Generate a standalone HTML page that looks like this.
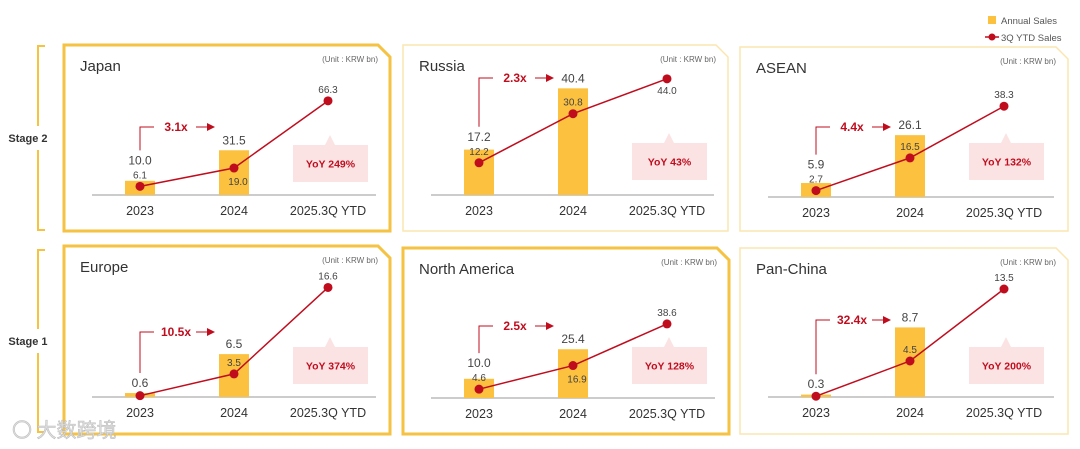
<!DOCTYPE html>
<html><head><meta charset="utf-8"><style>
html,body{margin:0;padding:0;background:#fff;}
svg{display:block;font-family:"Liberation Sans","Noto Sans CJK SC",sans-serif;}
</style></head><body>
<svg id="chart" width="1080" height="449" viewBox="0 0 1080 449"></svg>
<script>
const regions=["Japan","Russia","ASEAN","Europe","North America","Pan-China"];
const categories=["2023","2024","2025.3Q YTD"];
const annual2023=[10.0,17.2,5.9,0.6,10.0,0.3];
const annual2024=[31.5,40.4,26.1,6.5,25.4,8.7];
const ytd2023=[6.1,12.2,2.7,0.2,4.6,0.1];
const ytd2024=[19.0,30.8,16.5,3.5,16.9,4.5];
const ytd2025=[66.3,44.0,38.3,16.6,38.6,13.5];
const multipliers=["3.1x","2.3x","4.4x","10.5x","2.5x","32.4x"];
const yoyLabels=["YoY 249%","YoY 43%","YoY 132%","YoY 374%","YoY 128%","YoY 200%"];
const show2023Line=[true,true,true,false,true,false];
const label2024Below=[true,false,false,false,true,false];
const label2025Below=[false,true,false,false,false,false];

const geo=[
 {x:64,y:45,w:326,h:186,thick:true,base:195,s:1.42,my:127,by:145},
 {x:403,y:45,w:325,h:186,thick:false,base:195,s:2.64,my:78,by:143},
 {x:740,y:47,w:328,h:184,thick:false,base:197,s:2.37,my:127,by:143},
 {x:64,y:246,w:326,h:188,thick:true,base:397,s:6.6,my:332,by:347},
 {x:403,y:248,w:326,h:186,thick:true,base:398,s:1.92,my:326,by:347},
 {x:740,y:248,w:328,h:186,thick:false,base:397,s:8.0,my:320,by:347}
];
const svg=document.getElementById('chart');
const NS="http://www.w3.org/2000/svg";
function mk(tag,attrs,parent,text){const e=document.createElementNS(NS,tag);for(const k in attrs)e.setAttribute(k,attrs[k]);if(text!==undefined)e.textContent=text;(parent||svg).appendChild(e);return e;}

// legend
const lg=mk('g',{});


const l1=mk('rect',{x:988,y:16,width:8,height:8,fill:'#fcc13f'},lg);


mk('text',{x:1001,y:24,'font-size':9.5,fill:'#555'},lg,'Annual Sales');
mk('line',{x1:985,y1:37,x2:999,y2:37,stroke:'#c00d1e','stroke-width':1.5},lg);
const l2=mk('circle',{cx:992,cy:37,r:3.5,fill:'#c00d1e'},lg);


mk('text',{x:1001,y:41,'font-size':9.5,fill:'#555'},lg,'3Q YTD Sales');

// stage brackets
[[46,230,'Stage 2'],[250,432,'Stage 1']].forEach(b=>{
 const g=mk('g',{});
 
 
 const mid=(b[0]+b[1])/2;
 mk('path',{d:`M45 ${b[0]} H38 V${mid-12} M38 ${mid+12} V${b[1]} H45`,fill:'none',stroke:'#f5c242','stroke-width':2},g);
 mk('text',{x:28,y:mid+4,'font-size':11,'font-weight':'bold','text-anchor':'middle',fill:'#333'},g,b[2]);
});

regions.forEach((name,i)=>{
 const G=geo[i];
 const g=mk('g',{});
 
 
 const c=12;
 mk('path',{d:`M${G.x} ${G.y} H${G.x+G.w-c} L${G.x+G.w} ${G.y+c} V${G.y+G.h} H${G.x} Z`,fill:'#fff',stroke:G.thick?'#f5c242':'#fbe6b0','stroke-width':G.thick?3:1.5},g);
 const t=mk('text',{x:G.x+16,y:G.y+26,'font-size':15,fill:'#333'},g,name);
 
 
 mk('text',{x:G.x+G.w-12,y:G.y+17,'font-size':8,fill:'#666','text-anchor':'end'},g,'(Unit : KRW bn)');
 const xs=[G.x+76,G.x+170,G.x+264];
 const yv=v=>G.base-v*G.s;
 mk('line',{x1:G.x+28,y1:G.base,x2:G.x+G.w-14,y2:G.base,stroke:'#999','stroke-width':1},g);
 categories.forEach((cat,k)=>{mk('text',{x:xs[k],y:G.base+20,'font-size':12.5,'text-anchor':'middle',fill:'#333'},g,cat);});
 const ann=[annual2023[i],annual2024[i]];
 const ytd=[ytd2023[i],ytd2024[i],ytd2025[i]];
 ann.forEach((v,k)=>{
  const r=mk('rect',{x:xs[k]-15,y:yv(v),width:30,height:G.base-yv(v),fill:'#fcc13f'},g);
  
  
 });
 const pts=ytd.map((v,k)=>xs[k]+','+yv(v)).join(' ');
 const pl=mk('polyline',{points:pts,fill:'none',stroke:'#c00d1e','stroke-width':1.5},g);
 
 
 ytd.forEach((v,k)=>{
  const d=mk('circle',{cx:xs[k],cy:yv(v),r:4.5,fill:'#c00d1e'},g);
  
  
 });
 let bl23=yv(ann[0])-6;
 if(show2023Line[i]){
  mk('text',{x:xs[0],y:yv(ytd[0])-8,'font-size':10,'text-anchor':'middle',fill:'#444'},g,ytd[0].toFixed(1));
  bl23=Math.min(bl23,yv(ytd[0])-22);
 } else bl23=Math.min(bl23,yv(ytd[0])-8);
 mk('text',{x:xs[0],y:bl23,'font-size':12,'text-anchor':'middle',fill:'#444'},g,ann[0].toFixed(1));
 let bl24=yv(ann[1])-6;
 if(label2024Below[i]){
  mk('text',{x:xs[1]+4,y:yv(ytd[1])+17,'font-size':10,'text-anchor':'middle',fill:'#444'},g,ytd[1].toFixed(1));
 } else {
  mk('text',{x:xs[1],y:yv(ytd[1])-8,'font-size':10,'text-anchor':'middle',fill:'#444'},g,ytd[1].toFixed(1));
  bl24=Math.min(bl24,yv(ytd[1])-22);
 }
 mk('text',{x:xs[1],y:bl24,'font-size':12,'text-anchor':'middle',fill:'#444'},g,ann[1].toFixed(1));
 mk('text',{x:xs[2],y:label2025Below[i]?yv(ytd[2])+15:yv(ytd[2])-8,'font-size':10,'text-anchor':'middle',fill:'#444'},g,ytd[2].toFixed(1));
 const my=G.my;
 const top0=bl23-14;
 mk('path',{d:`M${xs[0]} ${top0} V${my} H${xs[0]+14}`,fill:'none',stroke:'#c00d1e','stroke-width':1},g);
 const mt=mk('text',{x:xs[0]+36,y:my+4,'font-size':12,'font-weight':'bold','text-anchor':'middle',fill:'#c00d1e'},g,multipliers[i]);
 
 
 mk('line',{x1:xs[0]+56,y1:my,x2:xs[0]+68,y2:my,stroke:'#c00d1e','stroke-width':1},g);
 mk('path',{d:`M${xs[0]+67} ${my-4} L${xs[0]+75} ${my} L${xs[0]+67} ${my+4} Z`,fill:'#c00d1e'},g);
 const bx=G.x+229,by=G.by,bw=75,bh=37,ax=xs[2]+2;
 const yb=mk('path',{d:`M${bx} ${by} H${ax-5} L${ax} ${by-10} L${ax+5} ${by} H${bx+bw} V${by+bh} H${bx} Z`,fill:'#fbe3e4'},g);
 
 
 mk('text',{x:bx+bw/2,y:by+bh/2+4,'font-size':10.5,'font-weight':'bold','text-anchor':'middle',fill:'#c00d1e'},g,yoyLabels[i]);
});
const wm=mk('text',{x:12,y:437,'font-size':20,fill:'#ddd',stroke:'#bbb','stroke-width':0.5,'font-family':'"Noto Sans CJK SC",sans-serif'},svg,'〇 大数跨境');


</script>
</body></html>
